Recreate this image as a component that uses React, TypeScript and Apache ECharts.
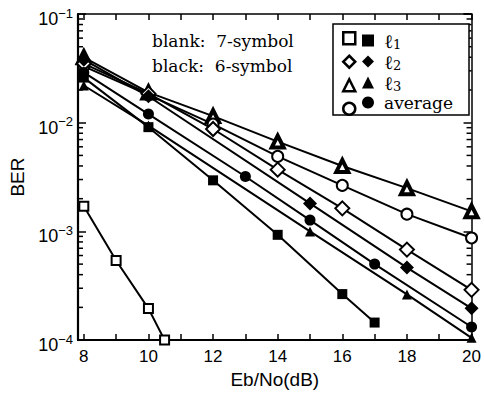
import React, { useEffect, useRef } from 'react';
import * as echarts from 'echarts';

// x ticks and labels
const xTicks = [8, 9, 10, 11, 12, 13, 14, 15, 16, 17, 18, 19, 20];
const xLabels = [8, 10, 12, 14, 16, 18, 20];
const yMinor = [
  2e-4, 3e-4, 4e-4, 5e-4, 6e-4, 7e-4, 8e-4, 9e-4,
  2e-3, 3e-3, 4e-3, 5e-3, 6e-3, 7e-3, 8e-3, 9e-3,
  2e-2, 3e-2, 4e-2, 5e-2, 6e-2, 7e-2, 8e-2, 9e-2,
];

// blank: 7-symbol, black: 6-symbol
const l1Blank = [[8, 1.7e-3], [9, 5.4e-4], [10, 1.95e-4], [10.5, 1.0e-4]];
const l1Black = [[8, 0.026], [10, 9.1e-3], [12, 2.95e-3], [14, 9.3e-4], [16, 2.65e-4], [17, 1.45e-4]];
const l2Blank = [[8, 0.035], [10, 0.0185], [12, 8.75e-3], [14, 3.7e-3], [16, 1.63e-3], [18, 6.8e-4], [20, 2.9e-4]];
const l2Black = [[8, 0.038], [10, 0.0175], [15, 1.81e-3], [18, 4.65e-4], [20, 1.96e-4]];
const l3Blank = [[8, 0.04], [10, 0.019], [12, 0.0115], [14, 6.7e-3], [16, 4.0e-3], [18, 2.5e-3], [20, 1.53e-3]];
const l3Black = [[8, 0.022], [10, 9.4e-3], [15, 1.0e-3], [18, 2.63e-4], [20, 1.05e-4]];
const avgBlank = [[8, 0.033], [10, 0.018], [12, 9.7e-3], [14, 4.9e-3], [16, 2.65e-3], [18, 1.44e-3], [20, 8.7e-4]];
const avgBlack = [[8, 0.029], [10, 0.012], [13, 3.2e-3], [15, 1.27e-3], [17, 5.0e-4], [20, 1.32e-4]];

const SANS = '"Liberation Sans", Arial, sans-serif';
const SERIF = '"DejaVu Serif", serif';

function line(name: string, data: number[][], symbol: string, size: number, filled: boolean, bw: number) {
  return {
    type: 'line',
    name,
    data,
    symbol,
    symbolSize: size,
    showSymbol: true,
    clip: false,
    lineStyle: { color: '#000', width: 2 },
    itemStyle: { color: filled ? '#000' : '#fff', borderColor: '#000', borderWidth: filled ? 0 : bw, opacity: 1 },
    emphasis: { disabled: true },
    z: 3,
  };
}

export default function App() {
  const ref = useRef<HTMLDivElement>(null);
  useEffect(() => {
    const chart = echarts.init(ref.current!, null, { renderer: 'svg' });
    const axisLine = { show: true, onZero: false, lineStyle: { color: '#000', width: 2.2 } };
    const option: any = {
      animation: false,
      backgroundColor: '#fff',
      grid: { left: 74, right: 9, top: 14, bottom: 51, containLabel: false },
      xAxis: [
        {
          type: 'value', min: 7.82, max: 20, position: 'bottom',
          axisLine,
          axisTick: { show: true, inside: true, length: 6, customValues: xTicks, lineStyle: { color: '#000', width: 1.5 } },
          axisLabel: { customValues: xLabels, margin: 8, color: '#000', fontSize: 17, fontFamily: SANS },
          splitLine: { show: false },
          name: 'Eb/No(dB)', nameLocation: 'middle', nameGap: 29,
          nameTextStyle: { color: '#000', fontSize: 19, fontFamily: SANS },
        },
        {
          type: 'value', min: 7.82, max: 20, position: 'top',
          axisLine: { show: true, onZero: false, lineStyle: { color: '#000', width: 1.5 } },
          axisTick: { show: true, inside: true, length: 6, customValues: xTicks, lineStyle: { color: '#000', width: 1.5 } },
          axisLabel: { show: false },
          splitLine: { show: false },
        },
      ],
      yAxis: [
        {
          type: 'log', logBase: 10, min: 1e-4, max: 1e-1, position: 'left',
          axisLine,
          axisTick: { show: true, inside: true, length: 8, lineStyle: { color: '#000', width: 1.5 } },
          axisLabel: {
            margin: 5, color: '#000',
            formatter: (v: number) => `{b|10}{s|\u2212${-Math.round(Math.log10(v))}}`,
            rich: {
              b: { fontSize: 18, fontFamily: SANS, color: '#000', padding: [10, 0, 0, 0] },
              s: { fontSize: 13, fontFamily: SANS, color: '#000', padding: [0, 0, 2, 0] },
            },
          },
          splitLine: { show: false },
          name: 'BER', nameLocation: 'middle', nameGap: 51,
          nameTextStyle: { color: '#000', fontSize: 19, fontFamily: SANS },
        },
        {
          type: 'log', logBase: 10, min: 1e-4, max: 1e-1, position: 'right',
          axisLine: { show: true, onZero: false, lineStyle: { color: '#000', width: 1.5 } },
          axisTick: { show: true, inside: true, length: 8, lineStyle: { color: '#000', width: 1.5 } },
          axisLabel: { show: false },
          splitLine: { show: false },
        },
      ],
      legend: [
        {
          orient: 'vertical', left: 333, top: 24,
          padding: [7, 16, 4, 29], itemGap: 1, itemWidth: 12, itemHeight: 12,
          selectedMode: false,
          borderColor: '#000', borderWidth: 1.5, backgroundColor: '#fff',
          itemStyle: { borderWidth: 0 },
          data: [
            { name: '\u21131', icon: 'rect' },
            { name: '\u21132', icon: 'diamond' },
            { name: '\u21133', icon: 'triangle' },
            { name: 'average', icon: 'circle' },
          ],
          formatter: (n: string) => (n === 'average' ? '{a|average}' : `{l|\u2113}{n|${n.slice(1)}}`),
          textStyle: {
            color: '#000', fontFamily: SERIF, fontSize: 17, padding: [0, 0, 0, 5],
            rich: {
              a: { fontFamily: SERIF, fontSize: 17, color: '#000', lineHeight: 20 },
              l: { fontFamily: SERIF, fontSize: 19, color: '#000', lineHeight: 20 },
              n: { fontFamily: SERIF, fontSize: 13, color: '#000', padding: [8, 0, 0, 0] },
            },
          },
          z: 10,
        },
        {
          orient: 'vertical', left: 342, top: 31,
          padding: 0, itemGap: 9, itemWidth: 12, itemHeight: 12,
          selectedMode: false,
          itemStyle: { borderWidth: 2.5 },
          data: [
            { name: '\u21131 blank', icon: 'rect' },
            { name: '\u21132 blank', icon: 'diamond' },
            { name: '\u21133 blank', icon: 'triangle' },
            { name: 'average blank', icon: 'circle' },
          ],
          formatter: () => '',
          z: 11,
        },
      ],
      graphic: [
        { type: 'text', left: 152, top: 32, style: { text: 'blank:  7-symbol', fill: '#000', font: `17px ${SERIF}` }, z: 20 },
        { type: 'text', left: 152, top: 57, style: { text: 'black:  6-symbol', fill: '#000', font: `17px ${SERIF}` }, z: 20 },
      ],
      series: [
        {
          type: 'custom',
          name: 'minor',
          silent: true,
          clip: false,
          data: yMinor.map((v) => [8, v]),
          encode: { x: 0, y: 1 },
          renderItem: (params: any, api: any) => {
            const p = api.coord([8, api.value(1)]);
            const cs = params.coordSys;
            return {
              type: 'group',
              children: [
                { type: 'line', shape: { x1: cs.x, y1: p[1], x2: cs.x + 5, y2: p[1] }, style: { stroke: '#000', lineWidth: 1.5 } },
                { type: 'line', shape: { x1: cs.x + cs.width, y1: p[1], x2: cs.x + cs.width - 5, y2: p[1] }, style: { stroke: '#000', lineWidth: 1.5 } },
              ],
            };
          },
          z: 1,
        },
        line('\u21131 blank', l1Blank, 'rect', 9, false, 2),
        line('\u21133 blank', l3Blank, 'triangle', 12, false, 4),
        line('average blank', avgBlank, 'circle', 11, false, 2),
        line('\u21132 blank', l2Blank, 'diamond', 14, false, 2),
        line('\u21133', l3Black, 'triangle', 10, true, 0),
        line('\u21132', l2Black, 'diamond', 14, true, 0),
        line('average', avgBlack, 'circle', 11, true, 0),
        line('\u21131', l1Black, 'rect', 10, true, 0),
      ],
    };
    chart.setOption(option);
    return () => chart.dispose();
  }, []);
  return <div ref={ref} style={{ position: 'fixed', left: 0, top: 0, width: 484, height: 394 }} />;
}
